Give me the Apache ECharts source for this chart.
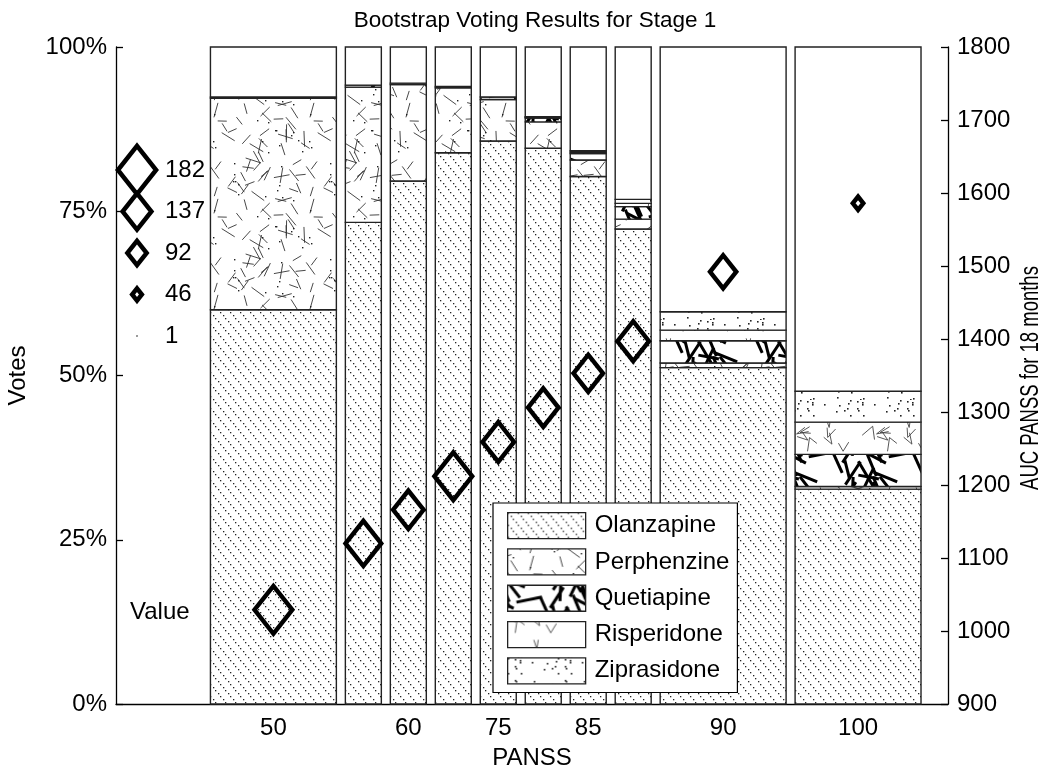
<!DOCTYPE html>
<html>
<head>
<meta charset="utf-8">
<script src="https://cdn.jsdelivr.net/npm/echarts@6/dist/echarts.min.js"></script>
<style>
  html, body { margin: 0; background: #fff; }
  #chart { width: 1050px; height: 774px; }
</style>
</head>
<body>
<div id="chart"></div>
<script>
// x positions of the bars (axis units) and the PANSS labels under some of them
const panssLabels = ['50', '60', '75', '85', '90', '100']
const labelledBars = [0, 2, 4, 6, 8, 9]
const barCenters = [3.5, 5.5, 6.5, 7.5, 8.5, 9.5, 10.5, 11.5, 13.5, 16.5]
const barWidths = [2.8, 0.8, 0.8, 0.8, 0.8, 0.8, 0.8, 0.8, 2.8, 2.8]

// vote shares (%) per drug, bottom to top of each bar
const drugs = ['Olanzapine', 'Perphenzine', 'Quetiapine', 'Risperidone', 'Ziprasidone']
const olanzapine = [60.0, 73.3, 79.6, 83.9, 85.7, 84.6, 80.3, 72.3, 51.2, 32.7]
const perphenzine = [32.2, 20.6, 14.7, 9.9, 6.3, 4.0, 2.5, 1.5, 0.7, 0.4]
const quetiapine = [0.2, 0.3, 0.2, 0.2, 0.4, 0.6, 1.0, 1.9, 3.4, 4.9]
const risperidone = [0, 0, 0, 0, 0, 0.1, 0.2, 0.5, 1.6, 4.9]
const ziprasidone = [0, 0, 0, 0, 0, 0.1, 0.2, 0.6, 2.8, 4.7]

// diamonds: AUC PANSS (right axis) and their value (marker size)
const aucPanss = [1029, 1120, 1166, 1212, 1259, 1306, 1353, 1397, 1492, 1586]
const markerValues = [180, 170, 145, 180, 150, 145, 140, 150, 125, 50]
const sizeKey = [182, 137, 92, 46, 1]

const voteTicks = [0, 25, 50, 75, 100]
const aucTicks = [900, 1000, 1100, 1200, 1300, 1400, 1500, 1600, 1700, 1800]

const font = "'Liberation Sans', Arial, Helvetica, sans-serif"

// marker size from its value
const diamondSize = (v) => [0.21 * v, 0.265 * v]
const diamondStroke = (v) => Math.min(4.5, 1 + v / 13)

// ---- hatch textures (fixed seed, just for the look) ----
function seeded(seed) {
  let s = seed
  return () => (s = (s * 16807) % 2147483647) / 2147483647
}
function tile(w, h, draw) {
  const c = document.createElement('canvas')
  c.width = w
  c.height = h
  const ctx = c.getContext('2d')
  ctx.fillStyle = '#fff'
  ctx.fillRect(0, 0, w, h)
  draw(ctx, w, h)
  return { image: c, repeat: 'repeat' }
}
function wrapLine(ctx, w, h, x1, y1, x2, y2) {
  for (const dx of [-w, 0, w]) {
    for (const dy of [-h, 0, h]) {
      ctx.beginPath()
      ctx.moveTo(x1 + dx, y1 + dy)
      ctx.lineTo(x2 + dx, y2 + dy)
      ctx.stroke()
    }
  }
}
function dots(ctx, w, h, n, r, rnd) {
  for (let i = 0; i < n; i++) {
    ctx.fillRect(Math.floor(rnd() * w), Math.floor(rnd() * h), r, r)
  }
}

const patterns = {
  Olanzapine: tile(10, 12, (ctx) => {
    ctx.fillStyle = '#222'
    for (let i = 0; i < 4; i++) ctx.fillRect(Math.round(i * 2.5), i * 3, 1.3, 1.3)
  }),
  Perphenzine: tile(96, 96, (ctx, w, h) => {
    const rnd = seeded(101)
    ctx.strokeStyle = '#333'
    ctx.lineWidth = 0.9
    for (let i = 0; i < 52; i++) {
      const x = rnd() * w, y = rnd() * h, a = rnd() * Math.PI, l = 9 + rnd() * 7
      wrapLine(ctx, w, h, x, y, x + Math.cos(a) * l, y + Math.sin(a) * l)
    }
    ctx.fillStyle = '#222'
    dots(ctx, w, h, 26, 1.4, rnd)
  }),
  Quetiapine: tile(80, 40, (ctx, w, h) => {
    const rnd = seeded(7)
    ctx.strokeStyle = '#000'
    ctx.lineWidth = 3
    for (let i = 0; i < 15; i++) {
      const x = rnd() * w, y = rnd() * h, a = rnd() * Math.PI, l = 16 + rnd() * 18
      wrapLine(ctx, w, h, x, y, x + Math.cos(a) * l, y + Math.sin(a) * l)
    }
  }),
  Risperidone: tile(80, 40, (ctx, w, h) => {
    const rnd = seeded(29)
    ctx.strokeStyle = '#444'
    ctx.lineWidth = 0.9
    for (let i = 0; i < 9; i++) {
      const x = rnd() * w, y = rnd() * h, a = rnd() * Math.PI * 2, b = a + 0.4 + rnd() * 0.7
      const l1 = 9 + rnd() * 5, l2 = 9 + rnd() * 5
      wrapLine(ctx, w, h, x, y, x + Math.cos(a) * l1, y + Math.sin(a) * l1)
      wrapLine(ctx, w, h, x, y, x + Math.cos(b) * l2, y + Math.sin(b) * l2)
    }
  }),
  Ziprasidone: tile(50, 40, (ctx, w, h) => {
    const rnd = seeded(3)
    ctx.fillStyle = '#222'
    dots(ctx, w, h, 24, 1.6, rnd)
  }),
  rest: '#fff',
}

const shares = [olanzapine, perphenzine, quetiapine, risperidone, ziprasidone]

// stacked rows: [center, width, from, to]
function stackRows(k) {
  return barCenters.map((c, i) => {
    let base = 0
    for (let j = 0; j < k; j++) base += shares[j][i]
    const top = k < shares.length ? base + shares[k][i] : 100
    return [c, barWidths[i], base, top]
  })
}

function segmentSeries(name, k) {
  const fill = patterns[name]
  return {
    name: name,
    type: 'custom',
    z: 2,
    silent: true,
    encode: { x: 0, y: [2, 3] },
    itemStyle: { color: fill, borderColor: '#222', borderWidth: 1.3 },
    renderItem: (params, api) => {
      const x = api.value(0), w = api.value(1), lo = api.value(2), hi = api.value(3)
      if (hi - lo <= 0) return null
      const a = api.coord([x - w / 2, hi])
      const b = api.coord([x + w / 2, lo])
      return {
        type: 'rect',
        shape: { x: a[0], y: a[1], width: b[0] - a[0], height: b[1] - a[1] },
        style: { fill: fill, stroke: '#222', lineWidth: 1.4 },
      }
    },
    data: stackRows(k),
  }
}

const tickPos = labelledBars.map((i) => barCenters[i])

const keyGraphics = []
sizeKey.forEach((v, i) => {
  const cy = 170 + 41.5 * i
  const [w, h] = diamondSize(v)
  keyGraphics.push({
    type: 'polygon',
    shape: { points: [[137, cy - h / 2], [137 + w / 2, cy], [137, cy + h / 2], [137 - w / 2, cy]] },
    style: { fill: 'none', stroke: '#000', lineWidth: diamondStroke(v) },
    z: 10,
  })
  keyGraphics.push({
    type: 'text',
    left: 165,
    top: cy - 12,
    style: { text: String(v), fontSize: 24, fontFamily: font, fill: '#000' },
    z: 10,
  })
})
keyGraphics.push({
  type: 'text',
  left: 130,
  top: 600,
  style: { text: 'Value', fontSize: 24, fontFamily: font, fill: '#000' },
  z: 10,
})
// right axis title, condensed like the original
keyGraphics.push({
  type: 'text',
  x: 1031,
  y: 378,
  rotation: Math.PI / 2,
  scaleX: 0.74,
  style: {
    text: 'AUC PANSS for 18 months',
    fontSize: 25,
    fontFamily: font,
    fill: '#000',
    align: 'center',
    verticalAlign: 'middle',
  },
  z: 10,
})

const chart = echarts.init(document.getElementById('chart'))
const option = {
  animation: false,
  backgroundColor: '#fff',
  textStyle: { fontFamily: font },
  title: {
    text: 'Bootstrap Voting Results for Stage 1',
    left: 530,
    top: 4,
    textAlign: 'center',
    textStyle: { fontSize: 22.5, fontWeight: 'normal', color: '#000', fontFamily: font },
  },
  grid: { left: 116, right: 102, top: 47, bottom: 70, containLabel: false, outerBoundsMode: 'none' },
  legend: {
    data: drugs,
    orient: 'vertical',
    left: 493,
    top: 503,
    padding: [9, 8, 8, 14],
    itemGap: 9,
    itemWidth: 78,
    itemHeight: 26,
    icon: 'rect',
    backgroundColor: '#fff',
    borderColor: '#000',
    borderWidth: 1.2,
    selectedMode: false,
    itemStyle: { borderColor: '#222', borderWidth: 1.3 },
    textStyle: { fontSize: 24, color: '#000', fontFamily: font, padding: [0, 0, 0, 4] },
    z: 20,
  },
  xAxis: {
    type: 'value',
    min: 0,
    max: 18.5,
    name: 'PANSS',
    nameLocation: 'middle',
    nameGap: 42,
    nameTextStyle: { fontSize: 24, color: '#000', fontFamily: font },
    axisLine: { lineStyle: { color: '#000', width: 1.3 } },
    axisTick: { inside: true, length: 7, customValues: tickPos, lineStyle: { color: '#000', width: 1.3 } },
    axisLabel: {
      customValues: tickPos,
      formatter: (v) => panssLabels[tickPos.findIndex((p) => Math.abs(p - v) < 1e-6)],
      fontSize: 24,
      color: '#000',
      margin: 12,
    },
    splitLine: { show: false },
  },
  yAxis: [
    {
      type: 'value',
      min: 0,
      max: 100,
      name: 'Votes',
      nameLocation: 'middle',
      nameGap: 86,
      nameTextStyle: { fontSize: 24, color: '#000', fontFamily: font },
      axisLine: { show: true, lineStyle: { color: '#000', width: 1.3 } },
      axisTick: { inside: true, length: 7, customValues: voteTicks, lineStyle: { color: '#000', width: 1.3 } },
      axisLabel: { customValues: voteTicks, formatter: '{value}%', fontSize: 24, color: '#000', margin: 9 },
      splitLine: { show: false },
    },
    {
      type: 'value',
      min: 900,
      max: 1800,
      position: 'right',
      axisLine: { show: true, lineStyle: { color: '#000', width: 1.3 } },
      axisTick: { inside: true, length: 7, customValues: aucTicks, lineStyle: { color: '#000', width: 1.3 } },
      axisLabel: { customValues: aucTicks, formatter: (v) => String(v), fontSize: 24, color: '#000', margin: 9 },
      splitLine: { show: false },
    },
  ],
  series: [
    ...drugs.map((d, k) => segmentSeries(d, k)),
    segmentSeries('rest', drugs.length),
    {
      name: 'AUC',
      type: 'scatter',
      yAxisIndex: 1,
      z: 5,
      silent: true,
      symbol: 'diamond',
      symbolSize: (val) => diamondSize(val[2]),
      itemStyle: { color: 'rgba(0,0,0,0)', borderColor: '#000', borderWidth: 4.5, opacity: 1 },
      data: aucPanss.map((v, i) => [barCenters[i], v, markerValues[i]]),
    },
  ],
  graphic: keyGraphics,
}

option && chart.setOption(option)
</script>
</body>
</html>
